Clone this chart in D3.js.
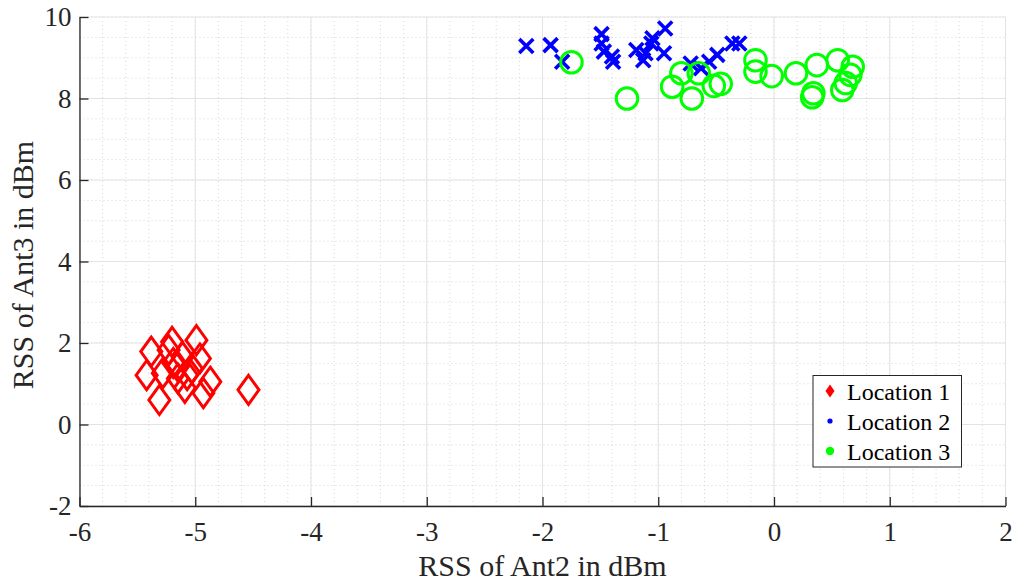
<!DOCTYPE html>
<html>
<head>
<meta charset="utf-8">
<script src="https://cdn.jsdelivr.net/npm/d3@7"></script>
<style>
  html, body { margin: 0; padding: 0; background: #fff; }
  svg { display: block; font-family: "Liberation Serif", "Times New Roman", serif; }
</style>
</head>
<body>
<svg id="chart" width="1017" height="588"></svg>
<script>
// RSS measurements at three locations (Ant2 vs Ant3, dBm)
const loc1X = [-5.38, -5.20, -4.99, -5.42, -5.31, -4.54, -4.96, -4.87, -4.93, -5.09, -5.15, -5.28, -5.19, -5.11, -5.07, -5.23, -5.03, -5.15];
const loc1Y = [ 1.79,  2.03,  2.07,  1.21,  0.60,  0.85,  1.62,  1.05,  0.77,  0.90,  1.42,  1.26,  1.51,  1.66,  1.21,  1.83,  1.38,  1.13];

const loc2X = [-2.14, -1.93, -1.83, -1.49, -1.49, -1.47, -1.40, -1.39, -1.19, -1.13, -1.06, -1.05, -0.94, -0.95, -0.63, -0.56, -0.49, -0.36, -0.30, -0.72, -1.11];
const loc2Y = [ 9.29,  9.31,  8.90,  9.58,  9.35,  9.15,  9.03,  8.90,  9.19,  8.94,  9.35,  9.48,  9.72,  9.11,  8.74,  8.90,  9.07,  9.35,  9.35,  8.86,  9.11];

const loc3X = [-1.75, -1.27, -0.88, -0.80, -0.71, -0.65, -0.52, -0.46, -0.16, -0.16, -0.02, 0.19, 0.37, 0.34, 0.33, 0.55, 0.68, 0.66, 0.59, 0.62];
const loc3Y = [ 8.89,  8.00,  8.29,  8.62,  8.00,  8.62,  8.31,  8.36,  8.94,  8.66,  8.55, 8.62, 8.82, 8.13, 8.03, 8.94, 8.78, 8.58, 8.21, 8.38];

const xTicks = [-6, -5, -4, -3, -2, -1, 0, 1, 2];
const yTicks = [-2, 0, 2, 4, 6, 8, 10];
const legendLabels = ["Location 1", "Location 2", "Location 3"];
const seriesColors = ["#ff0000", "#0000ff", "#00ff00"];

const svg = d3.select("#chart");
const plotL = 79.5, plotR = 1005.5, plotT = 17, plotB = 506;

const x = d3.scaleLinear().domain([-6, 2]).range([plotL, plotR]);
const y = d3.scaleLinear().domain([-2, 10]).range([plotB, plotT]);

// minor grid (dotted)
const gMinor = svg.append("g");
d3.range(-6, 2.0001, 0.2).forEach(v => {
  gMinor.append("line")
    .attr("x1", x(v)).attr("x2", x(v)).attr("y1", plotT).attr("y2", plotB)
    .attr("stroke", "#d6d6d6").attr("stroke-width", 1).attr("stroke-dasharray", "1,3");
});
d3.range(-2, 10.0001, 0.5).forEach(v => {
  gMinor.append("line")
    .attr("y1", y(v)).attr("y2", y(v)).attr("x1", plotL).attr("x2", plotR)
    .attr("stroke", "#d6d6d6").attr("stroke-width", 1).attr("stroke-dasharray", "1,3");
});

// major grid
const gMajor = svg.append("g");
xTicks.forEach(v => {
  gMajor.append("line")
    .attr("x1", x(v)).attr("x2", x(v)).attr("y1", plotT).attr("y2", plotB)
    .attr("stroke", "#e3e3e3").attr("stroke-width", 1);
});
yTicks.forEach(v => {
  gMajor.append("line")
    .attr("y1", y(v)).attr("y2", y(v)).attr("x1", plotL).attr("x2", plotR)
    .attr("stroke", "#e3e3e3").attr("stroke-width", 1);
});

// axes with inward ticks
const xAxis = svg.append("g")
  .attr("transform", `translate(0,${plotB})`)
  .call(d3.axisBottom(x).tickValues(xTicks).tickSizeInner(-9).tickSizeOuter(0).tickPadding(16).tickFormat(d3.format("d")));
const yAxis = svg.append("g")
  .attr("transform", `translate(${plotL},0)`)
  .call(d3.axisLeft(y).tickValues(yTicks).tickSizeInner(-9).tickSizeOuter(0).tickPadding(8).tickFormat(d3.format("d")));

[xAxis, yAxis].forEach(a => {
  a.select(".domain").attr("stroke", "#262626").attr("stroke-width", 1.3);
  a.selectAll(".tick line").attr("stroke", "#262626").attr("stroke-width", 1.3);
  a.selectAll(".tick text")
    .attr("fill", "#262626")
    .style("font-family", "'Liberation Serif', 'Times New Roman', serif")
    .style("font-size", "27px");
});
// plain hyphen for negative tick labels
svg.selectAll(".tick text").text(function() { return d3.select(this).text().replace("\u2212", "-"); });

// axis titles
svg.append("text")
  .attr("x", (plotL + plotR) / 2).attr("y", 576)
  .attr("text-anchor", "middle")
  .attr("fill", "#262626")
  .style("font-size", "30px")
  .text("RSS of Ant2 in dBm");
svg.append("text")
  .attr("transform", `translate(33,265) rotate(-90)`)
  .attr("text-anchor", "middle")
  .attr("fill", "#262626")
  .style("font-size", "30px")
  .text("RSS of Ant3 in dBm");

// Location 1: open diamonds
const diamond = (cx, cy, w, h) => `M${cx},${cy - h}L${cx + w},${cy}L${cx},${cy + h}L${cx - w},${cy}Z`;
svg.append("g").selectAll("path")
  .data(d3.zip(loc1X, loc1Y))
  .join("path")
  .attr("d", d => diamond(x(d[0]), y(d[1]), 10.5, 14.5))
  .attr("fill", "none").attr("stroke", seriesColors[0]).attr("stroke-width", 3);

// Location 2: crosses
svg.append("g").selectAll("path")
  .data(d3.zip(loc2X, loc2Y))
  .join("path")
  .attr("d", d => {
    const cx = x(d[0]), cy = y(d[1]), s = 7;
    return `M${cx - s},${cy - s}L${cx + s},${cy + s}M${cx - s},${cy + s}L${cx + s},${cy - s}`;
  })
  .attr("fill", "none").attr("stroke", seriesColors[1]).attr("stroke-width", 3.6);

// Location 3: open circles
svg.append("g").selectAll("circle")
  .data(d3.zip(loc3X, loc3Y))
  .join("circle")
  .attr("cx", d => x(d[0])).attr("cy", d => y(d[1])).attr("r", 10.8)
  .attr("fill", "none").attr("stroke", seriesColors[2]).attr("stroke-width", 3);

// legend
const lg = svg.append("g");
lg.append("rect")
  .attr("x", 813).attr("y", 375.5).attr("width", 148.5).attr("height", 91.5)
  .attr("fill", "#fff").attr("stroke", "#262626").attr("stroke-width", 1);
legendLabels.forEach((lab, i) => {
  const cy = 391 + i * 30;
  if (i === 0) {
    lg.append("path").attr("d", diamond(830, cy, 4.5, 6.5)).attr("fill", seriesColors[0]);
  } else if (i === 1) {
    lg.append("circle").attr("cx", 830).attr("cy", cy).attr("r", 2.6).attr("fill", seriesColors[1]);
  } else {
    lg.append("circle").attr("cx", 830).attr("cy", cy).attr("r", 4.2).attr("fill", seriesColors[2]);
  }
  lg.append("text")
    .attr("x", 847).attr("y", cy + 8.5)
    .attr("fill", "#000")
    .style("font-size", "24px")
    .text(lab);
});
</script>
</body>
</html>
